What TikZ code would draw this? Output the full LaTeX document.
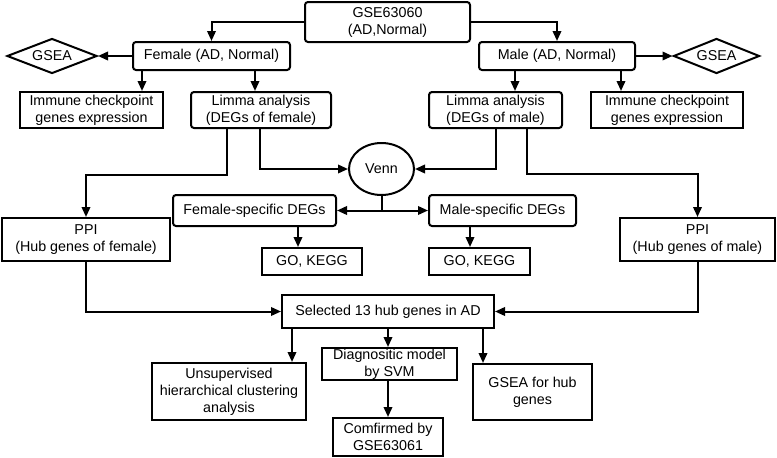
\documentclass[tikz,border=0pt]{standalone}
\usepackage{fontspec}
\setmainfont{Liberation Sans}
\usepackage{tikz}
\usetikzlibrary{positioning}
\usetikzlibrary{shapes.geometric}
\usetikzlibrary{arrows.meta}
\tikzset{
  box/.style={draw,line width=2pt,align=center,inner sep=0pt},
  rbox/.style={box,rounded corners=3pt},
  dia/.style={box,diamond,aspect=2.5},
  arr/.style={line width=2pt,-{Triangle[length=10pt,width=8.5pt]}},
  ln/.style={line width=2pt}
}
\begin{document}
\begin{tikzpicture}[x=1pt,y=-1pt,font=\fontsize{14.3}{17}\selectfont]
\useasboundingbox (0,0) rectangle (777,458);
\node[rbox,minimum width=165pt,minimum height=40pt] at(387.5,22)(1) {GSE63060\\(AD,Normal)};
\node[rbox,minimum width=157pt,minimum height=28pt] at(211.5,56)(2) {Female (AD, Normal)};
\node[rbox,minimum width=156pt,minimum height=28pt] at(557,56)(3) {Male (AD, Normal)};
\node[dia,minimum width=90pt,minimum height=35pt] at(52,56)(4) {GSEA};
\node[dia,minimum width=86pt,minimum height=35pt] at(716.5,56)(5) {GSEA};
\node[box,minimum width=143pt,minimum height=36pt] at(91.5,110)(6) {Immune checkpoint\\genes expression};
\node[rbox,minimum width=140pt,minimum height=36pt] at(261,110)(7) {Limma analysis\\(DEGs of female)};
\node[rbox,minimum width=133pt,minimum height=36pt] at(495.5,110)(8) {Limma analysis\\(DEGs of male)};
\node[box,minimum width=152pt,minimum height=36pt] at(667,110)(9) {Immune checkpoint\\genes expression};
\node[box,ellipse,minimum width=65pt,minimum height=52pt] at(381.5,169)(10) {Venn};
\node[rbox,minimum width=163pt,minimum height=31pt] at(254.5,210.5)(11) {Female-specific DEGs};
\node[rbox,minimum width=147pt,minimum height=31pt] at(502.5,210.5)(12) {Male-specific DEGs};
\node[box,minimum width=100pt,minimum height=27pt] at(312,261.5)(13) {GO, KEGG};
\node[box,minimum width=101pt,minimum height=27pt] at(479.5,261.5)(14) {GO, KEGG};
\node[box,minimum width=168pt,minimum height=43pt] at(86,239.5)(15) {PPI\\(Hub genes of female)};
\node[box,minimum width=155pt,minimum height=43pt] at(697.5,239.5)(16) {PPI\\(Hub genes of male)};
\node[box,minimum width=212pt,minimum height=33pt] at(388,311.5)(17) {Selected 13 hub genes in AD};
\node[box,minimum width=154pt,minimum height=57pt] at(229,391.5)(18) {Unsupervised\\hierarchical clustering\\analysis};
\node[box,minimum width=135pt,minimum height=32pt] at(389.5,364)(19) {Diagnositic model\\by SVM};
\node[box,minimum width=110pt,minimum height=38pt] at(388,437)(20) {Comfirmed by\\GSE63061};
\node[box,minimum width=119pt,minimum height=56pt] at(532.5,392)(21) {GSEA for hub\\genes};
\draw[arr] (1.west) -| (2.north);
\draw[arr] (1.east) -| (3.north);
\draw[arr] (2.west) -- (4.east);
\draw[arr] (3.east) -- (5.west);
\draw[arr] ([xshift=-69.5pt]2.south) -- ([xshift=-69.5pt]2.south |- 6.north);
\draw[arr] ([xshift=-6pt]7.north |- 2.south) -- ([xshift=-6pt]7.north);
\draw[arr] ([xshift=19.5pt]8.north |- 3.south) -- ([xshift=19.5pt]8.north);
\draw[arr] ([xshift=64pt]3.south) -- ([xshift=64pt]3.south |- 9.north);
\draw[arr] ([xshift=-1pt]7.south) |- (10.west);
\draw[arr] (8.south) |- (10.east);
\draw[arr] ([xshift=-34pt]7.south) -- ++(0,46) -| (15.north);
\draw[arr] ([xshift=31.5pt]8.south) -- ++(0,45) -| (16.north);
\draw[ln] (10.south) -- (10.south |- 11.east);
\draw[arr] (10.south |- 11.east) -- (11.east);
\draw[arr] (10.south |- 12.west) -- (12.west);
\draw[arr] ([xshift=-14pt]13.north |- 11.south) -- ([xshift=-14pt]13.north);
\draw[arr] ([xshift=-9.5pt]14.north |- 12.south) -- ([xshift=-9.5pt]14.north);
\draw[arr] (15.south) |- (17.west);
\draw[arr] (16.south) |- (17.east);
\draw[arr] ([xshift=63pt]18.north |- 17.south) -- ([xshift=63pt]18.north);
\draw[arr] (17.south) -- (17.south |- 19.north);
\draw[arr] ([xshift=-49.5pt]21.north |- 17.south) -- ([xshift=-49.5pt]21.north);
\draw[arr] (20.north |- 19.south) -- (20.north);
\end{tikzpicture}
\end{document}
